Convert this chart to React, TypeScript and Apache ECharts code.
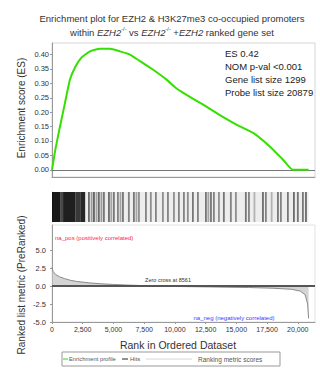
import React, { useEffect, useRef } from "react";
import * as echarts from "echarts";

// Running enrichment score (ES) profile
const esRank = [0, 270, 650, 1060, 1460, 1870, 2410, 3090, 3900, 4720, 5530, 6340, 7150, 8200, 9320, 10140, 10950, 12300, 13660, 15010, 16370, 17720, 18800, 19600, 20879];
const esValue = [0, 0.07, 0.15, 0.233, 0.313, 0.355, 0.39, 0.411, 0.42, 0.42, 0.411, 0.4, 0.377, 0.348, 0.313, 0.282, 0.26, 0.226, 0.19, 0.157, 0.128, 0.081, 0.035, 0.0, 0.0];

// Ranked list metric
const metricRank = [0, 100, 300, 600, 1000, 1500, 2000, 3000, 4000, 5000, 6000, 7000, 8000, 8561, 10000, 12000, 14000, 16000, 18000, 19500, 20200, 20600, 20800, 20879];
const metricValue = [2.6, 2.0, 1.6, 1.3, 1.05, 0.8, 0.65, 0.45, 0.32, 0.22, 0.15, 0.09, 0.03, 0, -0.05, -0.1, -0.15, -0.2, -0.3, -0.45, -0.7, -1.2, -2.5, -4.5];

// Hits: dense ranges [start, end, density]
const hitBlocks = [
  [2700, 20879, 0.07],
  [0, 700, 0.9],
  [700, 900, 0.72],
  [900, 1900, 0.88],
  [1900, 2300, 0.78],
  [2300, 2700, 0.85],
];
// Individual hits
const hitRanks = [2930, 3150, 3340, 3550, 3740, 3950, 4150, 4560, 4750, 4960, 5290, 5500, 5700, 6180, 6590, 6800, 7000, 7570, 7970, 8380, 8950, 9360, 9850, 10250, 10660, 10980, 11390, 11800, 12450, 12650, 12860, 13100, 13510, 13910, 14480, 14890, 15700, 15950, 16400, 17090, 17330, 17800, 18310, 18550, 19120, 19610, 19930, 20340, 20590];
const hitShade = [0.55, 0.35, 0.6, 0.3, 0.55, 0.35, 0.5, 0.55, 0.3, 0.5, 0.45, 0.3, 0.5, 0.45, 0.5, 0.3, 0.4, 0.45, 0.4, 0.45, 0.4, 0.45, 0.4, 0.45, 0.45, 0.4, 0.5, 0.45, 0.5, 0.3, 0.5, 0.45, 0.4, 0.5, 0.45, 0.4, 0.5, 0.45, 0.25, 0.55, 0.45, 0.25, 0.5, 0.45, 0.5, 0.55, 0.5, 0.5, 0.55];

const esTicks = [0, 0.05, 0.1, 0.15, 0.2, 0.25, 0.3, 0.35, 0.4];
const metricTicks = [-5, -2.5, 0, 2.5, 5];
const rankTicks = [0, 2500, 5000, 7500, 10000, 12500, 15000, 17500, 20000];

const statsLines = ["ES 0.42", "NOM p-val <0.001", "Gene list size 1299", "Probe list size 20879"];
const titleLine1 = "Enrichment plot for EZH2 & H3K27me3 co-occupied promoters";
const FONT = "'Liberation Sans', Arial, sans-serif";

export default function App() {
  const ref = useRef<HTMLDivElement>(null);
  useEffect(() => {
    if (!ref.current) return;
    const chart = echarts.init(ref.current, null, { renderer: "svg" });
    const hitsData: number[][] = [
      ...hitBlocks.map((b) => [b[0], b[1], b[2]]),
      ...hitRanks.map((r, i) => [r, r, hitShade[i]]),
    ];
    const xMax = 21400;
    const fmtRank = (v: number) => v.toLocaleString("en-US");
    const txt = "#333";
    const option: any = {
      animation: false,
      backgroundColor: "#fff",
      textStyle: { fontFamily: FONT },
      grid: [
        { left: 52, right: 5, top: 43, height: 134, show: true, borderColor: "#d6d6d6", borderWidth: 1 },
        { left: 52, right: 5, top: 192, height: 30 },
        { left: 52, right: 5, top: 225, height: 97, show: true, borderColor: "#e2e2e2", borderWidth: 1 },
      ],
      xAxis: [0, 1, 2].map((i) => ({
        type: "value",
        gridIndex: i,
        min: 0,
        max: xMax,
        axisLine: { show: i !== 1, onZero: false, lineStyle: { color: "#999" } },
        axisTick: { show: i === 2, customValues: rankTicks, length: 2, lineStyle: { color: "#999" } },
        axisLabel: { show: i === 2, customValues: rankTicks, formatter: fmtRank, fontSize: 7, color: txt, margin: 4, fontFamily: FONT },
        splitLine: { show: false },
      })),
      yAxis: [
        {
          type: "value", gridIndex: 0, min: -0.025, max: 0.44,
          axisLine: { show: true, lineStyle: { color: "#999" } },
          axisTick: { show: true, length: 2, customValues: esTicks, lineStyle: { color: "#999" } },
          axisLabel: { customValues: esTicks, formatter: (v: number) => v.toFixed(2), fontSize: 7.5, color: txt, margin: 3, fontFamily: FONT },
          splitLine: { show: false },
        },
        {
          type: "value", gridIndex: 1, min: 0, max: 1,
          axisLine: { show: true, lineStyle: { color: "#bbb" } },
          axisTick: { show: false }, axisLabel: { show: false }, splitLine: { show: false },
        },
        {
          type: "value", gridIndex: 2, min: -5, max: 8.5,
          axisLine: { show: true, lineStyle: { color: "#999" } },
          axisTick: { show: true, length: 2, customValues: metricTicks, lineStyle: { color: "#999" } },
          axisLabel: { customValues: metricTicks, formatter: (v: number) => v.toFixed(1), fontSize: 7.5, color: txt, margin: 6, fontFamily: FONT },
          splitLine: { show: false },
        },
      ],
      series: [
        {
          type: "line", xAxisIndex: 0, yAxisIndex: 0,
          data: esRank.map((r, i) => [r, esValue[i]]),
          showSymbol: false, smooth: 0.15,
          lineStyle: { color: "#33e000", width: 2 },
          z: 5,
          markLine: {
            silent: true, symbol: "none", label: { show: false },
            lineStyle: { color: "#777", width: 1, type: "solid" },
            data: [{ yAxis: 0 }],
          },
        },
        {
          type: "custom", xAxisIndex: 1, yAxisIndex: 1,
          data: hitsData,
          renderItem: (params: any, api: any) => {
            const s = api.coord([api.value(0), 1]);
            const e = api.coord([api.value(1), 0]);
            return {
              type: "rect",
              shape: { x: s[0], y: s[1], width: Math.max(e[0] - s[0], 1.8), height: e[1] - s[1] },
              style: { fill: `rgba(0,0,0,${api.value(2)})` },
            };
          },
        },
        {
          type: "line", xAxisIndex: 2, yAxisIndex: 2,
          data: metricRank.map((r, i) => [r, metricValue[i]]),
          showSymbol: false,
          lineStyle: { color: "#8a8a8a", width: 1 },
          areaStyle: { color: "#c2c2c2" },
          markLine: {
            silent: true, symbol: "none", label: { show: false },
            lineStyle: { color: "#555", width: 2, type: "solid" },
            data: [{ yAxis: 0 }],
          },
        },
      ],
      graphic: [
        {
          type: "text", x: 172, y: 18,
          style: { text: titleLine1, fontSize: 9.5, fontFamily: FONT, fill: txt, textAlign: "center", textVerticalAlign: "middle" },
        },
        {
          type: "text", x: 172, y: 32,
          style: {
            text: "{n|within }{i|EZH2}{s|-/-}{n| vs }{i|EZH2}{s|-/-}{n| +}{i|EZH2}{n| ranked gene set}",
            textAlign: "center", textVerticalAlign: "middle",
            rich: {
              n: { fontSize: 9.5, fontFamily: FONT, fill: txt },
              i: { fontSize: 9.5, fontFamily: FONT, fill: txt, fontStyle: "italic" },
              s: { fontSize: 5.5, fontFamily: FONT, fill: txt, padding: [0, 0, 6, 0] },
            },
          },
        },
        ...statsLines.map((t, i) => ({
          type: "text", x: 225, y: 53 + i * 13,
          style: { text: t, fontSize: 9.5, fontFamily: FONT, fill: "#222", textAlign: "left", textVerticalAlign: "middle" },
        })),
        {
          type: "text", x: 21, y: 108, rotation: Math.PI / 2,
          style: { text: "Enrichment score (ES)", fontSize: 10, fontFamily: FONT, fill: txt, textAlign: "center", textVerticalAlign: "middle" },
        },
        {
          type: "text", x: 21, y: 285, rotation: Math.PI / 2,
          style: { text: "Ranked list metric (PreRanked)", fontSize: 10, fontFamily: FONT, fill: txt, textAlign: "center", textVerticalAlign: "middle" },
        },
        {
          type: "text", x: 178, y: 345,
          style: { text: "Rank in Ordered Dataset", fontSize: 10.5, fontFamily: FONT, fill: txt, textAlign: "center", textVerticalAlign: "middle" },
        },
        {
          type: "text", x: 55, y: 238,
          style: { text: "na_pos (positively correlated)", fontSize: 6, fontFamily: FONT, fill: "#ff1a4a", textAlign: "left", textVerticalAlign: "middle" },
        },
        {
          type: "text", x: 168, y: 280,
          style: { text: "Zero cross at 8561", fontSize: 5.5, fontFamily: FONT, fill: "#333", textAlign: "center", textVerticalAlign: "middle" },
        },
        {
          type: "text", x: 234, y: 318,
          style: { text: "na_neg (negatively correlated)", fontSize: 6, fontFamily: FONT, fill: "#3a3aff", textAlign: "center", textVerticalAlign: "middle" },
        },
        // legend
        {
          type: "rect", shape: { x: 62, y: 352, width: 218, height: 14 },
          style: { fill: "#fff", stroke: "#999", lineWidth: 1 },
        },
        { type: "line", shape: { x1: 63, y1: 359, x2: 68, y2: 359 }, style: { stroke: "#33e000", lineWidth: 1 } },
        {
          type: "text", x: 69, y: 359,
          style: { text: "Enrichment profile", fontSize: 5.8, fontFamily: FONT, fill: "#555", textAlign: "left", textVerticalAlign: "middle" },
        },
        { type: "line", shape: { x1: 122, y1: 359, x2: 128, y2: 359 }, style: { stroke: "#222", lineWidth: 1 } },
        {
          type: "text", x: 130, y: 359,
          style: { text: "Hits", fontSize: 6, fontFamily: FONT, fill: "#555", textAlign: "left", textVerticalAlign: "middle" },
        },
        { type: "line", shape: { x1: 146, y1: 359, x2: 192, y2: 359 }, style: { stroke: "#d6d6d6", lineWidth: 1 } },
        {
          type: "text", x: 198, y: 359,
          style: { text: "Ranking metric scores", fontSize: 6.5, fontFamily: FONT, fill: "#555", textAlign: "left", textVerticalAlign: "middle" },
        },
      ],
    };
    chart.setOption(option);
    return () => chart.dispose();
  }, []);
  return <div ref={ref} style={{ width: 320, height: 368, position: "absolute", left: 0, top: 0 }} />;
}
